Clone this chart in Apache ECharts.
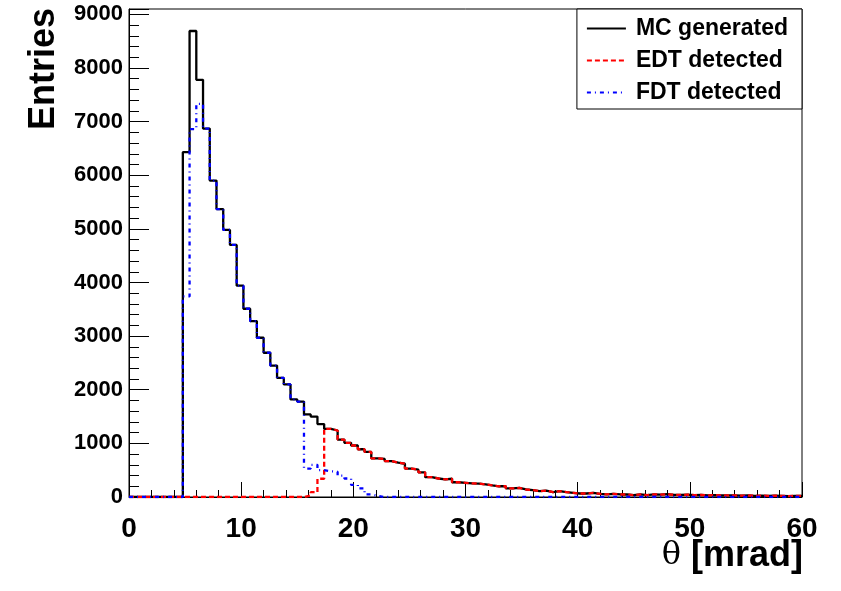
<!DOCTYPE html>
<html>
<head>
<meta charset="utf-8">
<script src="https://cdn.jsdelivr.net/npm/echarts@6.0.0/dist/echarts.min.js"></script>
<style>
  html, body { margin: 0; padding: 0; background: #fff; }
  #chart { width: 841px; height: 591px; }
</style>
</head>
<body>
<div id="chart"></div>
<script>
// bin width in mrad, 100 bins from 0 to 60
var binWidth = 0.6;

// MC generated
var mcGenerated = [
    0, 0, 0, 0, 0, 0, 0, 0,
    6430, 8690, 7780, 6870, 5900, 5370, 4980, 4700,
    3940, 3510, 3280, 2970, 2690, 2450, 2220, 2100, 1820, 1780,
    1540, 1500, 1360, 1270, 1240, 1070, 1010, 960, 890, 840,
    720, 710, 670, 640, 620, 530, 510, 460, 370, 345,
    330, 340, 275, 265, 255, 250, 235, 215, 200, 200,
    160, 170, 140, 127, 108, 120, 90, 108, 90, 78,
    65, 65, 78, 60, 47, 60, 47, 47, 34, 47, 34,
    50, 45, 52, 40, 38, 44, 35, 38, 30, 34, 28, 32, 30, 26, 28, 22, 26, 20, 24, 22, 18, 22, 20
];

// EDT detected
var edtDetected = [
    0, 0, 0, 0, 0, 0, 0, 0,
    0, 0, 0, 0, 0, 0, 0, 0,
    0, 0, 0, 0, 0, 0, 0, 0, 0, 0,
    30, 90, 340, 1270, 1240, 1070, 1010, 960, 890, 840,
    720, 710, 670, 640, 620, 530, 510, 460, 370, 345,
    330, 340, 275, 265, 255, 250, 235, 215, 200, 200,
    160, 170, 140, 127, 108, 120, 90, 108, 90, 78,
    65, 65, 78, 60, 47, 60, 47, 47, 34, 47, 34,
    50, 45, 52, 40, 38, 44, 35, 38, 30, 34, 28, 32, 30, 26, 28, 22, 26, 20, 24, 22, 18, 22, 20
];

// FDT detected
var fdtDetected = [
    0, 0, 0, 0, 0, 0, 0, 0,
    3740, 6860, 7330, 6870, 5900, 5370, 4980, 4700,
    3940, 3510, 3280, 2970, 2690, 2450, 2220, 2100, 1820, 1780,
    530, 600, 500, 480, 470, 400, 345, 225, 160, 50,
    20, 0, 0, 0, 0, 0, 0, 0, 0, 0,
    0, 0, 0, 0, 0, 0, 0, 0, 0, 0,
    0, 0, 0, 0, 0, 0, 0, 0, 0, 0,
    0, 0, 0, 0, 0, 0, 0, 0, 0, 0, 0,
    0, 0, 0, 0, 0, 0, 0, 0, 0, 0, 0, 0, 0, 0, 0, 0, 0, 0, 0, 0, 0, 0, 0
];

var xTicks = [0, 10, 20, 30, 40, 50, 60];
var yTicks = [0, 1000, 2000, 3000, 4000, 5000, 6000, 7000, 8000, 9000];

// turn bin contents into step points at the lower bin edges
function toSteps(values) {
    var pts = [];
    for (var i = 0; i < values.length; i++) {
        pts.push([i * binWidth, values[i]]);
    }
    pts.push([values.length * binWidth, values[values.length - 1]]);
    return pts;
}

var font = 'Liberation Sans, Arial, Helvetica, sans-serif';
var myChart = echarts.init(document.getElementById('chart'), null, { renderer: 'canvas' });

var option = {
    animation: false,
    backgroundColor: '#fff',
    grid: {
        left: 129, top: 9, right: 39, bottom: 94,
        show: true, borderColor: '#000', borderWidth: 1
    },
    legend: {
        right: 39, top: 9,
        orient: 'vertical',
        padding: [8, 14, 5, 9],
        itemGap: 9,
        itemWidth: 39,
        itemHeight: 14,
        backgroundColor: '#fff',
        borderColor: '#000',
        borderWidth: 1,
        borderRadius: 0,
        itemStyle: { opacity: 0 },   // line sample only, no marker
        textStyle: { fontFamily: font, fontWeight: 'bold', fontSize: 23, color: '#000', padding: [0, 0, 0, 5] },
        data: ['MC generated', 'EDT detected', 'FDT detected']
    },
    xAxis: {
        type: 'value', min: 0, max: 60, interval: 10,
        axisLine: { lineStyle: { color: '#000', width: 1 } },
        axisTick: { inside: true, length: 15, lineStyle: { color: '#000' } },
        minorTick: { show: true, splitNumber: 5, length: 7, lineStyle: { color: '#000' } },
        splitLine: { show: false },
        axisLabel: {
            margin: 18, fontFamily: font, fontWeight: 'bold', fontSize: 28, color: '#000',
            formatter: function (v) { return xTicks.indexOf(v) >= 0 ? String(v) : ''; }
        }
    },
    yAxis: [{
        type: 'value', min: 0, max: 9100, interval: 1000,
        axisLine: { show: true, lineStyle: { color: '#000', width: 1 } },
        axisTick: { show: true, inside: true, length: 20, lineStyle: { color: '#000' } },
        splitLine: { show: false },
        axisLabel: {
            margin: 6, fontFamily: font, fontWeight: 'bold', fontSize: 22, color: '#000',
            formatter: function (v) { return yTicks.indexOf(v) >= 0 ? String(v) : ''; }
        }
    }, {
        // minor ticks only
        type: 'value', min: 0, max: 9100, interval: 200, position: 'left',
        axisLine: { show: false },
        axisTick: { show: true, inside: true, length: 10, lineStyle: { color: '#000' } },
        splitLine: { show: false },
        axisLabel: { show: false }
    }],
    graphic: [{
        type: 'text',
        x: 44, y: 8,
        rotation: Math.PI / 2,
        style: {
            text: 'Entries',
            font: 'bold 36px ' + font,
            fill: '#000',
            align: 'right',
            verticalAlign: 'middle'
        }
    }, {
        type: 'text',
        x: 803, y: 556,
        style: {
            text: '{t|θ} [mrad]',
            font: 'bold 36px ' + font,
            fill: '#000',
            align: 'right',
            verticalAlign: 'middle',
            rich: {
                t: { fontFamily: 'DejaVu Serif', fontWeight: 'normal', fontSize: 32, fill: '#000' }
            }
        }
    }],
    series: [{
        name: 'MC generated',
        type: 'line', step: 'end', symbol: 'none',
        lineStyle: { color: '#000', width: 2.3 },
        itemStyle: { color: '#000' },
        data: toSteps(mcGenerated)
    }, {
        name: 'EDT detected',
        type: 'line', step: 'end', symbol: 'none',
        lineStyle: { color: '#ff0000', width: 2.3, type: [5, 3] },
        itemStyle: { color: '#ff0000' },
        data: toSteps(edtDetected)
    }, {
        name: 'FDT detected',
        type: 'line', step: 'end', symbol: 'none',
        lineStyle: { color: '#0000ff', width: 2.3, type: [4, 4, 1, 4] },
        itemStyle: { color: '#0000ff' },
        data: toSteps(fdtDetected)
    }]
};

myChart.setOption(option);
</script>
</body>
</html>
